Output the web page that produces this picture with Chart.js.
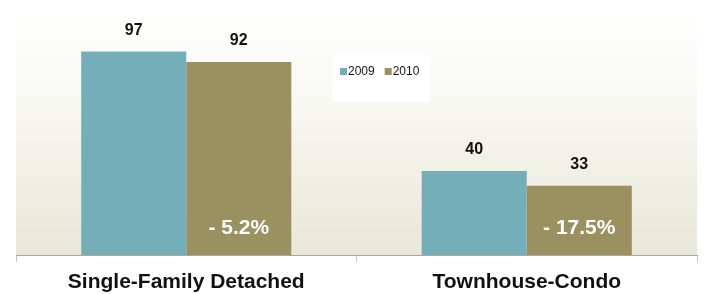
<!DOCTYPE html>
<html>
<head>
<meta charset="utf-8">
<script src="https://cdn.jsdelivr.net/npm/chart.js@4"></script>
<style>
    html, body { margin: 0; padding: 0; background: #fff; }
    #wrap { width: 713px; height: 294px; position: relative; }
</style>
</head>
<body>
<div id="wrap"><canvas id="chart"></canvas></div>
<script>
const categories = ['Single-Family Detached', 'Townhouse-Condo'];
const seriesNames = ['2009', '2010'];
const values2009 = [97, 40];
const values2010 = [92, 33];
const changeLabels = ['- 5.2%', '- 17.5%'];

const FONT = "'Liberation Sans', Arial, sans-serif";
const colors = ['#74AEB8', '#9B9060'];

// soft white -> beige wash behind the bars
const backgroundPlugin = {
    id: 'bgWash',
    beforeDraw(chart) {
        const {ctx, chartArea: a} = chart;
        const g = ctx.createLinearGradient(0, a.top, 0, a.bottom);
        g.addColorStop(0, '#FEFEFD');
        g.addColorStop(0.3, '#F9F9F5');
        g.addColorStop(1, '#E9E7D8');
        ctx.save();
        ctx.fillStyle = g;
        ctx.fillRect(a.left, a.top, a.right - a.left, a.bottom - a.top);
        ctx.restore();
    }
};

const labelPlugin = {
    id: 'barLabels',
    afterDatasetsDraw(chart) {
        const ctx = chart.ctx;
        const zeroY = chart.scales.y.getPixelForValue(0);
        ctx.save();
        ctx.textAlign = 'center';
        ctx.textBaseline = 'middle';
        chart.data.datasets.forEach((ds, di) => {
            chart.getDatasetMeta(di).data.forEach((bar, i) => {
                ctx.fillStyle = '#111';
                ctx.font = 'bold 16px ' + FONT;
                ctx.fillText(String(ds.data[i]), bar.x, bar.y - 21);
                if (di === 1) {
                    ctx.fillStyle = '#fff';
                    ctx.font = 'bold 21px ' + FONT;
                    ctx.fillText(changeLabels[i], bar.x, zeroY - 27);
                }
            });
        });
        ctx.restore();
    }
};

// small boxed legend sitting in the middle of the plot
const legendPlugin = {
    id: 'boxLegend',
    afterDraw(chart) {
        const ctx = chart.ctx;
        ctx.save();
        ctx.fillStyle = '#fff';
        ctx.fillRect(332, 54, 98, 48);
        ctx.font = '12px ' + FONT;
        ctx.textBaseline = 'middle';
        let x = 340;
        chart.data.datasets.forEach((ds) => {
            ctx.fillStyle = ds.backgroundColor;
            ctx.fillRect(x, 68, 7, 7);
            ctx.fillStyle = '#111';
            ctx.fillText(ds.label, x + 8, 72);
            x += 8 + ctx.measureText(ds.label).width + 10;
        });
        ctx.restore();
    }
};

new Chart(document.getElementById('chart'), {
    type: 'bar',
    data: {
        labels: categories,
        datasets: [
            {label: seriesNames[0], data: values2009, backgroundColor: colors[0]},
            {label: seriesNames[1], data: values2010, backgroundColor: colors[1]}
        ]
    },
    options: {
        responsive: true,
        maintainAspectRatio: false,
        animation: false,
        categoryPercentage: 0.617,
        barPercentage: 1,
        layout: {padding: {top: 20, left: 16, right: 16, bottom: 0}},
        plugins: {
            legend: {display: false},
            tooltip: {enabled: false}
        },
        scales: {
            x: {
                grid: {
                    drawOnChartArea: false,
                    tickLength: 7,
                    color: '#C4C4C4'
                },
                border: {color: '#A8A8A0', width: 1},
                ticks: {
                    color: '#111',
                    padding: 8,
                    maxRotation: 0,
                    autoSkip: false,
                    font: {family: FONT, size: 21, weight: 'bold'}
                },
                afterFit(scale) { scale.height = 39; }
            },
            y: {
                display: false,
                min: 0,
                max: 112
            }
        }
    },
    plugins: [backgroundPlugin, labelPlugin, legendPlugin]
});
</script>
</body>
</html>
